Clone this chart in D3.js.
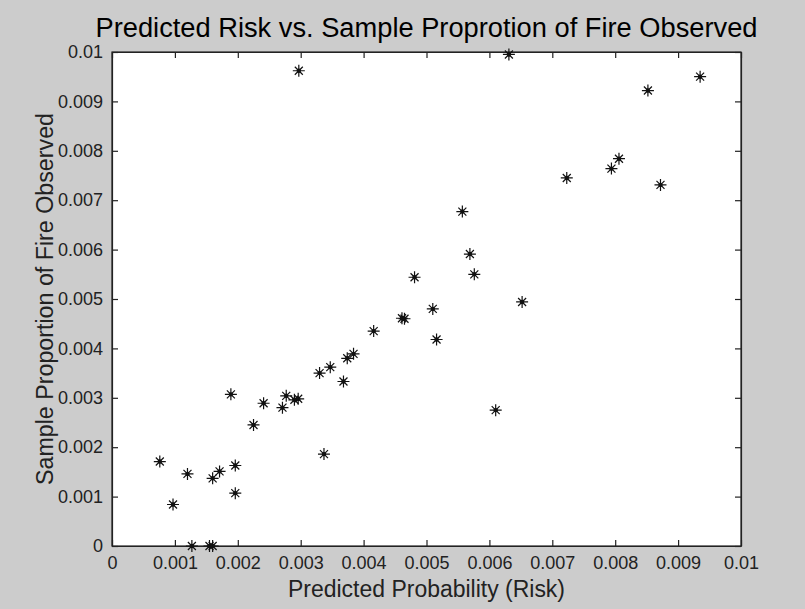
<!DOCTYPE html>
<html>
<head>
  <meta charset="utf-8">
  <title>Predicted Risk vs. Sample Proportion</title>
  <script src="https://d3js.org/d3.v7.min.js"></script>
  <style>
    body { margin: 0; background: #cccccc; }
    text { font-family: "Liberation Sans", Arial, sans-serif; }
  </style>
</head>
<body>
<script>

// predicted risk (x) and sample proportion observed (y)
var predicted = [0.00076, 0.00097, 0.0012, 0.00127, 0.0016, 0.00155, 0.0016, 0.00171,
                 0.00189, 0.00196, 0.00196, 0.00225, 0.00241, 0.00271, 0.00277, 0.0029,
                 0.00296, 0.0033, 0.00337, 0.00347, 0.00368, 0.00374, 0.00384, 0.00416,
                 0.00461, 0.00465, 0.0051, 0.00516, 0.0061, 0.00652, 0.00631, 0.00935,
                 0.00852, 0.00806, 0.00794, 0.00723, 0.00872, 0.00557, 0.00569, 0.00576,
                 0.00297, 0.00481];
var observed  = [0.00171, 0.00084, 0.00146, 0.0, 0.00137, 0.0, 0.0, 0.00151,
                 0.00307, 0.00163, 0.00107, 0.00245, 0.00289, 0.0028, 0.00304, 0.00296,
                 0.00298, 0.0035, 0.00186, 0.00362, 0.00333, 0.0038, 0.00389, 0.00435,
                 0.00461, 0.0046, 0.0048, 0.00418, 0.00275, 0.00494, 0.00995, 0.0095,
                 0.00922, 0.00784, 0.00764, 0.00745, 0.00731, 0.00677, 0.00591, 0.0055,
                 0.00962, 0.00544];
var ticks = [0, 0.001, 0.002, 0.003, 0.004, 0.005, 0.006, 0.007, 0.008, 0.009, 0.01];
var tickLabels = ["0", "0.001", "0.002", "0.003", "0.004", "0.005", "0.006", "0.007", "0.008", "0.009", "0.01"];

var width = 805,
    height = 609,
    margin = {top: 52, right: 64, bottom: 63, left: 112};

var svg = d3.select("body").append("svg")
    .attr("width", width)
    .attr("height", height);

svg.append("rect")
   .attr("width", width)
   .attr("height", height)
   .attr("fill", "#cccccc");

var x = d3.scaleLinear().domain([0, 0.01]).range([margin.left, width - margin.right]);
var y = d3.scaleLinear().domain([0, 0.01]).range([height - margin.bottom, margin.top]);

// white axes box
svg.append("rect")
   .attr("x", x(0))
   .attr("y", y(0.01))
   .attr("width", x(0.01) - x(0))
   .attr("height", y(0) - y(0.01))
   .attr("fill", "white")
   .attr("stroke", "#222")
   .attr("stroke-width", 1.2);

var fmt = function(d, i) { return tickLabels[i]; };

// bottom axis, ticks inside
svg.append("g")
   .attr("transform", "translate(0," + y(0) + ")")
   .call(d3.axisBottom(x).tickValues(ticks).tickFormat(fmt).tickSizeInner(-6).tickSizeOuter(0).tickPadding(10));
// left axis
svg.append("g")
   .attr("transform", "translate(" + x(0) + ",0)")
   .call(d3.axisLeft(y).tickValues(ticks).tickFormat(fmt).tickSizeInner(-6).tickSizeOuter(0).tickPadding(9));
// top and right: tick marks only
svg.append("g")
   .attr("transform", "translate(0," + y(0.01) + ")")
   .call(d3.axisTop(x).tickValues(ticks).tickFormat("").tickSizeInner(-6).tickSizeOuter(0));
svg.append("g")
   .attr("transform", "translate(" + x(0.01) + ",0)")
   .call(d3.axisRight(y).tickValues(ticks).tickFormat("").tickSizeInner(-6).tickSizeOuter(0));

svg.selectAll(".domain").attr("stroke", "#222").attr("stroke-width", 1.2);
svg.selectAll(".tick line").attr("stroke", "#222").attr("stroke-width", 1.2);
svg.selectAll(".tick text")
   .attr("font-size", 18)
   .attr("fill", "#222")
   .attr("font-family", "Liberation Sans, Arial, sans-serif");

// asterisk markers
var star = "M-6,0L6,0M0,-6L0,6M-4,-4L4,4M-4,4L4,-4";
var pts = d3.range(predicted.length);

svg.append("g").selectAll("path")
   .data(pts)
   .enter()
   .append("path")
   .attr("transform", function(i) { return "translate(" + x(predicted[i]) + "," + y(observed[i]) + ")"; })
   .attr("d", star)
   .attr("stroke", "#111")
   .attr("stroke-width", 1.2)
   .attr("fill", "none");

svg.append("g").selectAll("circle")
   .data(pts)
   .enter()
   .append("circle")
   .attr("cx", function(i) { return x(predicted[i]); })
   .attr("cy", function(i) { return y(observed[i]); })
   .attr("r", 2.2)
   .attr("fill", "#111");

// title and labels
svg.append("text")
   .attr("x", (x(0) + x(0.01)) / 2)
   .attr("y", 37)
   .attr("text-anchor", "middle")
   .attr("font-size", 27)
   .attr("textLength", 662)
   .attr("lengthAdjust", "spacingAndGlyphs")
   .attr("fill", "#000")
   .text("Predicted Risk vs. Sample Proprotion of Fire Observed");

svg.append("text")
   .attr("x", (x(0) + x(0.01)) / 2)
   .attr("y", 597)
   .attr("text-anchor", "middle")
   .attr("font-size", 23)
   .attr("textLength", 277)
   .attr("lengthAdjust", "spacingAndGlyphs")
   .attr("fill", "#222")
   .text("Predicted Probability (Risk)");

svg.append("text")
   .attr("transform", "translate(53," + (y(0) + y(0.01)) / 2 + ")rotate(-90)")
   .attr("text-anchor", "middle")
   .attr("font-size", 23)
   .attr("textLength", 372)
   .attr("lengthAdjust", "spacingAndGlyphs")
   .attr("fill", "#222")
   .text("Sample Proportion of Fire Observed");

</script>
</body>
</html>
